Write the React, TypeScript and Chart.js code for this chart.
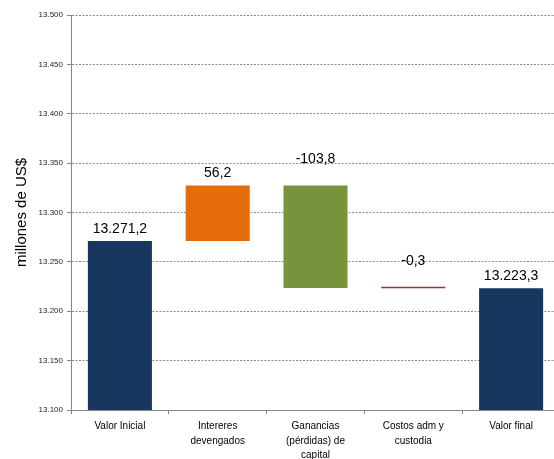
import React, { useEffect, useRef } from "react";
import { Chart, registerables } from "chart.js";

Chart.register(...registerables);

const categories: (string | string[])[] = [
  "Valor Inicial",
  ["Intereres", "devengados"],
  ["Ganancias", "(pérdidas) de", "capital"],
  ["Costos adm y", "custodia"],
  "Valor final",
];
// initial value, changes, final value (millones de US$)
const initialValue = 13271.2;
const changes = [56.2, -103.8, -0.3];
const finalValue = 13223.3;
const barColors = ["#17375E", "#E46C0A", "#77933C", "#953735", "#17375E"];
const yMin = 13100;
const yMax = 13500;
const yStep = 50;

function fmt(v: number, decimals: number): string {
  const neg = v < 0;
  const abs = Math.abs(v);
  const fixed = abs.toFixed(decimals);
  const [intPart, decPart] = fixed.split(".");
  const withDots = intPart.replace(/\B(?=(\d{3})+(?!\d))/g, ".");
  return (neg ? "-" : "") + withDots + (decPart !== undefined ? "," + decPart : "");
}

export default function App() {
  const ref = useRef<HTMLCanvasElement | null>(null);

  useEffect(() => {
    if (!ref.current) return;
    const ranges: [number, number][] = [];
    const labelValues: number[] = [];
    ranges.push([yMin, initialValue]);
    labelValues.push(initialValue);
    let cum = initialValue;
    for (const c of changes) {
      ranges.push([cum, cum + c]);
      labelValues.push(c);
      cum += c;
    }
    ranges.push([yMin, finalValue]);
    labelValues.push(finalValue);

    const labelPlugin = {
      id: "wfLabels",
      afterDatasetsDraw(chart: any) {
        const ctx = chart.ctx;
        const meta = chart.getDatasetMeta(0);
        ctx.save();
        ctx.font = "14px 'Liberation Sans', Arial, sans-serif";
        ctx.fillStyle = "#000000";
        ctx.textAlign = "center";
        ctx.textBaseline = "middle";
        meta.data.forEach((el: any, i: number) => {
          const top = Math.min(el.y, el.base);
          const v = labelValues[i];
          const off = v < 0 ? 26 : 12;
          ctx.fillText(fmt(v, 1), el.x, top - off);
        });
        ctx.restore();
      },
    };

    const chart = new Chart(ref.current, {
      type: "bar",
      data: {
        labels: categories,
        datasets: [
          {
            data: ranges as any,
            backgroundColor: barColors,
            borderWidth: 0,
            borderSkipped: false,
            minBarLength: 1.6,
            categoryPercentage: 1,
            barPercentage: 0.655,
          },
        ],
      },
      options: {
        animation: false,
        responsive: true,
        maintainAspectRatio: false,
        layout: { padding: { top: 15, right: 2, left: 0, bottom: 0 } },
        plugins: {
          legend: { display: false },
          tooltip: { enabled: false },
        },
        scales: {
          x: {
            grid: {
              offset: true,
              drawOnChartArea: false,
              drawTicks: true,
              tickLength: 4,
              tickColor: "#868686",
              tickWidth: 1,
            },
            border: { color: "#868686", width: 1 },
            ticks: {
              color: "#000000",
              font: { family: "'Liberation Sans', Arial, sans-serif", size: 10, lineHeight: 1.45 },
              padding: 5,
              maxRotation: 0,
              autoSkip: false,
            },
            afterFit(scale: any) {
              scale.height = 49;
            },
          },
          y: {
            min: yMin,
            max: yMax,
            ticks: {
              stepSize: yStep,
              color: "#262626",
              font: { family: "'Liberation Sans', Arial, sans-serif", size: 8 },
              padding: 4,
              callback: (v: any) => fmt(Number(v), 0),
            },
            grid: {
              color: "#8c8c8c",
              lineWidth: 1,
              drawTicks: true,
              tickLength: 4,
              tickColor: "#868686",
              tickBorderDash: [],
            },
            border: { color: "#868686", width: 1, dash: [2, 1.5] },
            title: {
              display: true,
              text: "millones de US$",
              color: "#000000",
              font: { family: "'Liberation Sans', Arial, sans-serif", size: 15 },
              padding: { top: 13, bottom: 0 },
            },
            afterFit(scale: any) {
              scale.width = 71;
            },
          },
        },
      },
      plugins: [labelPlugin],
    });
    return () => chart.destroy();
  }, []);

  return (
    <div style={{ position: "absolute", left: 0, top: 0, width: 554, height: 459, overflow: "hidden", background: "#fff" }}>
      <div style={{ position: "relative", width: 562, height: 459 }}>
        <canvas ref={ref} />
      </div>
    </div>
  );
}
